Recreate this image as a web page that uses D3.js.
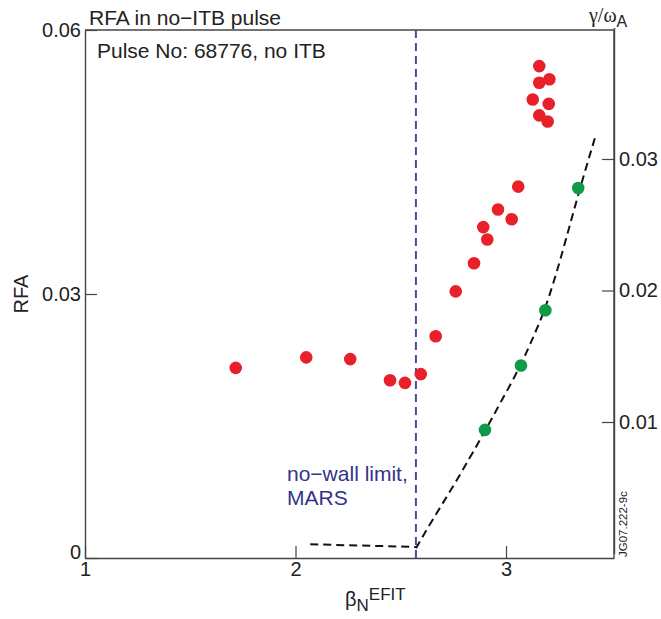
<!DOCTYPE html>
<html>
<head>
<meta charset="utf-8">
<script src="https://cdn.jsdelivr.net/npm/d3@7"></script>
<style>
  body { margin: 0; background: #fff; }
  text { font-family: 'Liberation Sans', Arial, sans-serif; fill: #222; }
</style>
</head>
<body>
<svg></svg>
<script>
var width = 661;
var height = 619;
var plotLeft = 85, plotRight = 614, plotTop = 30, plotBottom = 558;

// RFA measurements (left axis)
var rfaBeta = [1.716, 2.051, 2.260, 2.449, 2.520, 2.595, 2.666, 2.761, 2.848, 2.892, 2.911,
  2.962, 3.027, 3.058, 3.158, 3.206, 3.158, 3.127, 3.203, 3.158, 3.198];
var rfaValue = [0.0216, 0.0228, 0.0226, 0.0202, 0.0199, 0.0209, 0.0252, 0.0303, 0.0335, 0.0376, 0.0362,
  0.0396, 0.0385, 0.0422, 0.0559, 0.0544, 0.0540, 0.0521, 0.0516, 0.0503, 0.0496];

// growth rate points (right axis)
var gammaBeta = [2.900, 3.071, 3.187, 3.343];
var gammaValue = [0.0094, 0.0143, 0.0185, 0.0278];

// MARS growth rate curve (right axis)
var marsFlatBeta = [2.07, 2.572];
var marsFlatValue = [0.0007, 0.0005];
var marsBeta = [2.572, 2.648, 2.734, 2.829, 2.900, 2.971, 3.071, 3.133, 3.185, 3.257, 3.342, 3.428];
var marsValue = [0.0004, 0.0025, 0.0047, 0.0073, 0.0093, 0.0114, 0.0143, 0.0166, 0.0185, 0.0222, 0.0273, 0.0319];

var noWallLimit = 2.572;

var xTicks = [1, 2, 3];
var yLeftTicks = [0, 0.03, 0.06];
var yRightTicks = [0.01, 0.02, 0.03];

var xScale = d3.scaleLinear().domain([1, 3.513]).range([plotLeft, plotRight]);
var yScale = d3.scaleLinear().domain([0, 0.06]).range([plotBottom, plotTop]);
var yRight = d3.scaleLinear().domain([0, 0.04]).range([553.5, 27.5]);

var svg = d3.select('svg').attr('width', width).attr('height', height);

function styleAxis(g) {
  g.attr('font-size', '20px')
    .attr('font-family', "'Liberation Sans', Arial, sans-serif");
  g.selectAll('line').attr('stroke', '#444').attr('stroke-width', 1.2);
  g.selectAll('path').attr('stroke', '#444').attr('stroke-width', 1.4);
  g.selectAll('text').attr('fill', '#222');
}

svg.append('g')
  .attr('transform', 'translate(0,' + plotBottom + ')')
  .call(d3.axisBottom(xScale).tickValues(xTicks).tickSize(-12).tickSizeOuter(0).tickPadding(4)
    .tickFormat(d3.format('d')))
  .call(styleAxis);

svg.append('g')
  .attr('transform', 'translate(' + plotLeft + ',0)')
  .call(d3.axisLeft(yScale).tickValues(yLeftTicks).tickSize(-12).tickSizeOuter(0).tickPadding(4)
    .tickFormat((d) => (d === 0 ? '0' : d3.format('.2f')(d))))
  .call(styleAxis)
  .selectAll('.tick')
  .filter((d) => d === 0)
  .select('text')
  .attr('y', -6);

svg.append('g')
  .attr('transform', 'translate(' + plotRight + ',0)')
  .call(d3.axisRight(yRight).tickValues(yRightTicks).tickSize(-12).tickSizeOuter(0).tickPadding(5)
    .tickFormat(d3.format('.2f')))
  .call(styleAxis);

// frame lines
svg.append('line')
  .attr('x1', plotLeft).attr('x2', plotRight).attr('y1', plotTop).attr('y2', plotTop)
  .attr('stroke', '#444').attr('stroke-width', 1.4);
svg.append('line')
  .attr('x1', plotRight).attr('x2', plotRight).attr('y1', plotTop).attr('y2', plotBottom)
  .attr('stroke', '#444').attr('stroke-width', 1.4);

// no-wall limit
svg.append('line')
  .attr('x1', xScale(noWallLimit)).attr('x2', xScale(noWallLimit))
  .attr('y1', plotTop).attr('y2', plotBottom)
  .attr('stroke', '#4a4aa0').attr('stroke-width', 2)
  .attr('stroke-dasharray', '8,5');

// MARS curve
var line = d3.line().x((d) => xScale(d[0])).y((d) => yRight(d[1]));
svg.append('path')
  .attr('d', line(d3.zip(marsFlatBeta, marsFlatValue)))
  .attr('fill', 'none').attr('stroke', '#111').attr('stroke-width', 2)
  .attr('stroke-dasharray', '8,5');
svg.append('path')
  .attr('d', line.curve(d3.curveBasis)(d3.zip(marsBeta, marsValue)))
  .attr('fill', 'none').attr('stroke', '#111').attr('stroke-width', 2)
  .attr('stroke-dasharray', '8,5');

svg.append('g')
  .selectAll('circle')
  .data(d3.zip(rfaBeta, rfaValue))
  .enter()
  .append('circle')
  .attr('cx', (d) => xScale(d[0]))
  .attr('cy', (d) => yScale(d[1]))
  .attr('r', 6.3)
  .attr('fill', '#e8202a');

svg.append('g')
  .selectAll('circle')
  .data(d3.zip(gammaBeta, gammaValue))
  .enter()
  .append('circle')
  .attr('cx', (d) => xScale(d[0]))
  .attr('cy', (d) => yRight(d[1]))
  .attr('r', 6.3)
  .attr('fill', '#0f9a4a');

// texts
svg.append('text')
  .attr('x', 89).attr('y', 25)
  .attr('font-size', '21px')
  .text('RFA in no\u2212ITB pulse');

svg.append('text')
  .attr('x', 97).attr('y', 58)
  .attr('font-size', '21px')
  .text('Pulse No: 68776, no ITB');

svg.append('text')
  .attr('x', 287).attr('y', 481)
  .attr('font-size', '21px')
  .style('fill', '#33338a')
  .text('no\u2212wall limit,');
svg.append('text')
  .attr('x', 287).attr('y', 505)
  .attr('font-size', '21px')
  .style('fill', '#33338a')
  .text('MARS');

svg.append('text')
  .attr('transform', 'rotate(-90)')
  .attr('x', -294)
  .attr('y', 28)
  .attr('text-anchor', 'middle')
  .attr('font-size', '20px')
  .text('RFA');

var xl = svg.append('text')
  .attr('x', 345).attr('y', 606)
  .attr('font-size', '20px');
xl.append('tspan').text('\u03b2');
xl.append('tspan').attr('dy', 5).attr('font-size', '17px').text('N');
xl.append('tspan').attr('dy', -11).attr('font-size', '17px').text('EFIT');

var gl = svg.append('text')
  .attr('x', 589).attr('y', 22)
  .attr('font-size', '20px');
gl.append('tspan').style('font-family', "'Liberation Serif', serif").text('\u03b3/\u03c9');
gl.append('tspan').attr('dy', 5).attr('font-size', '16px').text('A');

svg.append('text')
  .attr('transform', 'translate(627,557) rotate(-90)')
  .attr('font-size', '11.5px')
  .text('JG07.222-9c');
</script>
</body>
</html>
